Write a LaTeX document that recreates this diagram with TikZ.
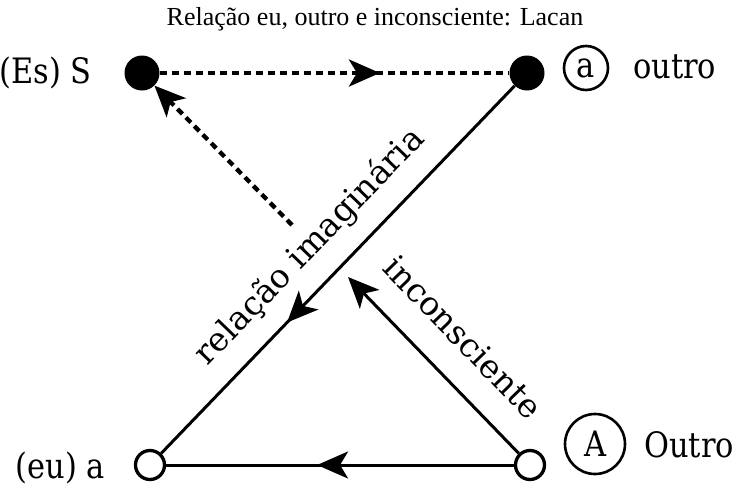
\documentclass[tikz,border=0pt]{standalone}
\usepackage{fontspec}
\setmainfont{DejaVu Serif}
\newfontfamily\lblfont[FakeStretch=0.87]{DejaVu Serif}
\newfontfamily\titlefont{Liberation Serif}
\usetikzlibrary{arrows.meta,decorations.markings}
\begin{document}
\begin{tikzpicture}[x=1pt,y=-1pt,
  dot/.style={circle,fill=black,minimum size=35pt,inner sep=0pt},
  hole/.style={circle,draw=black,line width=3.3pt,fill=white,minimum size=29pt,inner sep=0pt},
  ring/.style={circle,draw=black,line width=2.6pt,inner sep=0pt},
  lbl/.style={font=\lblfont\fontsize{35}{40}\selectfont, inner sep=0pt},
  rlbl/.style={font=\fontsize{33}{38}\selectfont, inner sep=0pt},
  tip/.style={-{Stealth[length=31pt,width=27pt,inset=8pt]}},
  midtip/.style={postaction={decorate},decoration={markings,mark=at position #1 with {\arrow{Stealth[length=31pt,width=27pt,inset=8pt]}}}},
  solidline/.style={line width=3pt},
  dashline/.style={line width=4.3pt,dash pattern=on 7pt off 5pt},
]
\useasboundingbox (0,0) rectangle (740,488);
\node[font=\titlefont\fontsize{26}{30}\selectfont, anchor=base, inner sep=0pt] (title) at (375,25) {Relação eu, outro e inconsciente: Lacan};
\node[dot] (S) at (142,73) {};
\node[dot] (o) at (527,73) {};
\node[hole] (eu) at (150,465) {};
\node[hole] (O) at (530,465) {};
\node[lbl, anchor=base east] (EsS) at (92,83) {(Es) S};
\node[ring, minimum size=44pt, lbl] (ra) at (586,68) {a};
\node[lbl, anchor=base west] (outro) at (633,78) {outro};
\node[ring, minimum size=60pt, lbl] (rA) at (595,444) {A};
\node[lbl, anchor=base west] (Outro) at (644,457) {Outro};
\node[lbl, anchor=base east] (eua) at (105,478) {(eu) a};
\coordinate (d0) at (292,225);
\coordinate (i0) at (348,277);
\draw[dashline, midtip=0.63] (S) -- (o);
\draw[dashline, tip] (d0) -- (S);
\draw[solidline, midtip=0.644] (o) -- (eu);
\draw[solidline, tip] (O) -- (i0);
\draw[solidline, midtip=0.566] (O) -- (eu);
\node[rlbl, rotate=46.1] (ri) at (310,247) {relação imaginária};
\node[rlbl, rotate=-45.9] (inc) at (463,337) {inconsciente};
\end{tikzpicture}
\end{document}
